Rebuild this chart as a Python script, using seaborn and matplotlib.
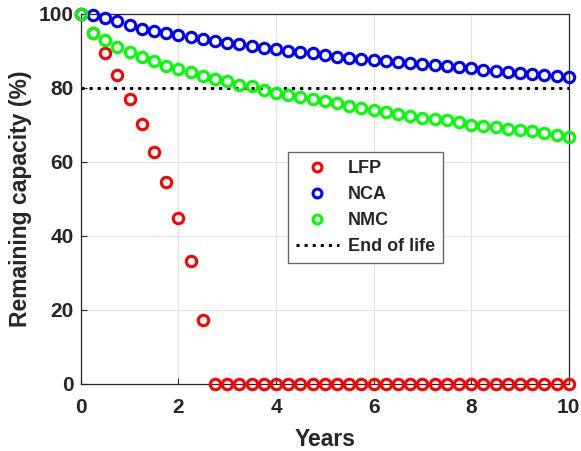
import numpy as np
import pandas as pd
import matplotlib
matplotlib.use("Agg")
import matplotlib.pyplot as plt
import seaborn as sns

# quarter-year sampling, 0..10 years
years = [i * 0.25 for i in range(41)]

lfp = [100, 94.8, 89.4, 83.4, 77.0, 70.3, 62.7, 54.6, 44.7, 33.2, 17.3] + [0] * 30

nca = [100, 99.8, 98.9, 98.0, 97.1, 96.0, 95.5, 94.9, 94.4, 93.7, 93.2,
       92.8, 92.2, 91.9, 91.4, 90.9, 90.5, 90.1, 89.7, 89.5,
       88.9, 88.5, 88.2, 87.8, 87.6, 87.3, 86.9, 86.8, 86.5, 86.2,
       85.9, 85.7, 85.3, 84.9, 84.7, 84.3, 84.1, 83.9, 83.6, 83.3, 82.9]

nmc = [100, 94.8, 93.0, 91.2, 89.7, 88.5, 87.2, 86.0, 85.1, 84.3, 83.2,
       82.4, 81.8, 80.8, 80.4, 79.5, 78.7, 78.1, 77.5, 77.0, 76.4,
       75.9, 75.1, 74.6, 74.1, 73.6, 72.9, 72.4, 71.9, 71.5, 71.2,
       70.7, 70.1, 69.8, 69.4, 68.9, 68.6, 68.3, 67.8, 67.2, 66.8]

series = ["LFP", "NCA", "NMC"]
colors = {"LFP": "#ff0000", "NCA": "#0000ff", "NMC": "#00ff00"}
end_of_life = 80

sns.set_theme(style="whitegrid")
plt.rcParams["font.family"] = ["Liberation Sans", "DejaVu Sans"]
plt.rcParams["font.weight"] = "bold"

df = pd.DataFrame({"Years": years, "LFP": lfp, "NCA": nca, "NMC": nmc})

fig = plt.figure(figsize=(5.81, 4.51), dpi=100)
ax = fig.add_axes([0.139, 0.149, 0.840, 0.820])

for name in series:
    c = colors[name]
    sns.lineplot(data=df, x="Years", y=name, ax=ax, color=c, marker="o",
                 linestyle="", markerfacecolor="none", markeredgecolor=c,
                 markeredgewidth=2.2, markersize=7.5, label=name, clip_on=False,
                 zorder=3)

ax.axhline(end_of_life, color="black", linestyle=":", linewidth=2.2, label="End of life")

ax.set_xlim(0, 10)
ax.set_ylim(0, 100)
ax.set_xticks([0, 2, 4, 6, 8, 10])
ax.set_yticks([0, 20, 40, 60, 80, 100])
ax.set_xlabel("Years", fontsize=16.5, fontweight="bold", color="#262626", labelpad=8)
ax.set_ylabel("Remaining capacity (%)", fontsize=16.5, fontweight="bold", color="#262626",
              labelpad=5)
ax.tick_params(direction="in", labelsize=15, colors="#262626", length=4, width=0.8,
               top=False, right=False, left=True, bottom=True, pad=5)
ax.tick_params(axis="x", pad=10)
for lab in ax.get_xticklabels() + ax.get_yticklabels():
    lab.set_fontweight("bold")
ax.grid(True, color="#e3e3e3", linewidth=0.8)
for sp in ax.spines.values():
    sp.set_color("#262626")
    sp.set_linewidth(0.9)

leg = ax.legend(loc="upper left", bbox_to_anchor=(0.424, 0.627), borderaxespad=0,
                fancybox=False, frameon=True, handlelength=2.4, handletextpad=0.5,
                borderpad=0.45, labelspacing=0.5, markerscale=0.85,
                prop={"weight": "bold", "size": 13})
leg.get_frame().set_edgecolor("#666666")
leg.get_frame().set_linewidth(1.0)
leg.get_frame().set_alpha(1)

fig.savefig("out.png", dpi=100)
